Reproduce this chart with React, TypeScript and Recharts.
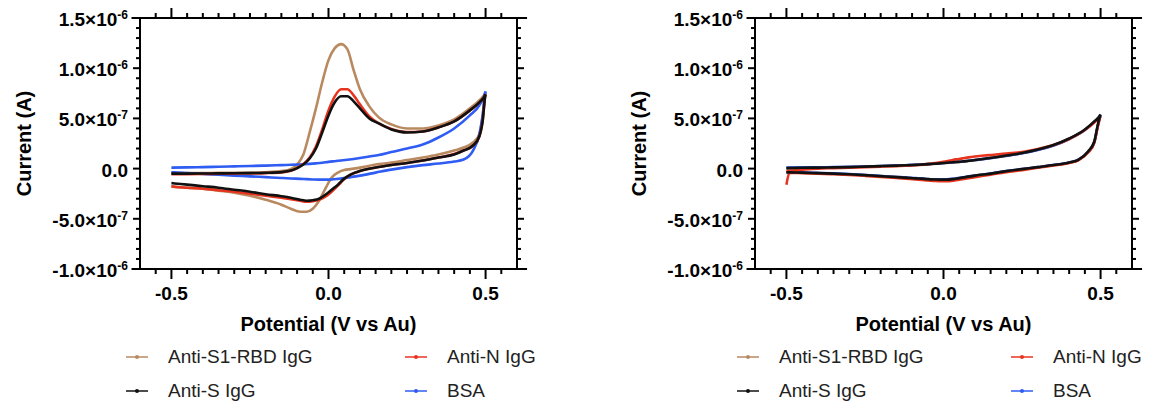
import { LineChart, Line, XAxis, YAxis, ReferenceLine } from "recharts"

// potentials (V vs Au) for the anodic (forward) and cathodic (reverse) sweeps
const fwdPotential = [-0.5, -0.45, -0.4, -0.35, -0.3, -0.25, -0.2, -0.15, -0.12, -0.1, -0.08, -0.06, -0.04, -0.02, 0, 0.02, 0.04, 0.06, 0.08, 0.1, 0.13, 0.16, 0.2, 0.25, 0.3, 0.35, 0.4, 0.45, 0.48, 0.5]
const revPotential = [0.5, 0.49, 0.48, 0.46, 0.43, 0.4, 0.35, 0.3, 0.25, 0.2, 0.15, 0.1, 0.07, 0.05, 0.03, 0.01, -0.01, -0.03, -0.05, -0.07, -0.09, -0.12, -0.15, -0.2, -0.25, -0.3, -0.35, -0.4, -0.45, -0.49, -0.5]

// left panel, current in units of 1e-7 A
const rbdFwdA = [-0.45, -0.45, -0.44, -0.43, -0.42, -0.4, -0.36, -0.25, -0.05, 0.4, 1.4, 3.6, 6.0, 8.6, 10.8, 12.0, 12.4, 11.9, 9.8, 7.9, 6.2, 5.1, 4.4, 4.0, 4.0, 4.3, 4.9, 6.0, 6.8, 7.6]
const rbdRevA = [7.6, 5.0, 3.4, 2.6, 2.1, 1.8, 1.4, 1.1, 0.85, 0.6, 0.4, 0.1, -0.05, -0.15, -0.4, -0.9, -2.0, -3.2, -4.0, -4.3, -4.3, -4.0, -3.6, -3.1, -2.7, -2.4, -2.2, -2.0, -1.9, -1.82, -1.8]
const nFwdA = [-0.55, -0.55, -0.54, -0.52, -0.5, -0.48, -0.45, -0.38, -0.22, 0.05, 0.45, 1.1, 2.2, 3.9, 5.8, 7.2, 7.9, 7.9, 7.3, 6.4, 5.2, 4.5, 3.95, 3.65, 3.7, 4.1, 4.7, 5.8, 6.6, 7.4]
const nRevA = [7.4, 4.6, 3.2, 2.3, 1.8, 1.45, 1.1, 0.8, 0.55, 0.35, 0.1, -0.25, -0.6, -1.05, -1.7, -2.3, -2.8, -3.1, -3.25, -3.3, -3.2, -3.05, -2.9, -2.7, -2.5, -2.3, -2.15, -2.0, -1.9, -1.8, -1.75]
const sFwdA = [-0.5, -0.5, -0.49, -0.48, -0.47, -0.45, -0.42, -0.35, -0.2, 0.05, 0.4, 1.0, 2.0, 3.6, 5.3, 6.6, 7.2, 7.2, 6.7, 6.0, 5.0, 4.5, 3.9, 3.6, 3.7, 4.1, 4.7, 5.8, 6.6, 7.4]
const sRevA = [7.4, 4.6, 3.2, 2.3, 1.8, 1.4, 1.1, 0.8, 0.55, 0.35, 0.1, -0.25, -0.6, -1.0, -1.6, -2.1, -2.6, -3.0, -3.15, -3.2, -3.1, -2.9, -2.75, -2.55, -2.3, -2.1, -1.9, -1.75, -1.6, -1.48, -1.45]
const bsaFwdA = [0.1, 0.12, 0.15, 0.18, 0.22, 0.26, 0.3, 0.35, 0.38, 0.4, 0.43, 0.47, 0.52, 0.58, 0.67, 0.74, 0.81, 0.88, 0.96, 1.05, 1.2, 1.35, 1.65, 2.0, 2.4, 3.1, 4.0, 5.3, 6.3, 7.7]
const bsaRevA = [7.7, 5.2, 3.4, 1.8, 0.9, 0.7, 0.5, 0.35, 0.15, -0.1, -0.4, -0.7, -0.85, -0.95, -1.02, -1.08, -1.1, -1.1, -1.08, -1.05, -1.02, -0.98, -0.93, -0.85, -0.77, -0.7, -0.62, -0.53, -0.45, -0.38, -0.37]

// right panel
const rbdFwdB = [0.0, 0.05, 0.08, 0.1, 0.13, 0.18, 0.23, 0.28, 0.31, 0.34, 0.37, 0.4, 0.44, 0.48, 0.53, 0.58, 0.63, 0.69, 0.76, 0.83, 0.95, 1.08, 1.27, 1.52, 1.87, 2.3, 2.95, 3.85, 4.65, 5.3]
const rbdRevB = [5.3, 4.1, 2.6, 1.6, 0.85, 0.58, 0.33, 0.13, -0.08, -0.28, -0.52, -0.72, -0.86, -0.96, -1.05, -1.1, -1.11, -1.09, -1.06, -1.01, -0.97, -0.9, -0.85, -0.76, -0.67, -0.59, -0.52, -0.46, -0.41, -0.39, -0.38]
const nFwdB = [-0.3, -0.1, 0.0, 0.05, 0.1, 0.15, 0.2, 0.25, 0.28, 0.32, 0.36, 0.42, 0.5, 0.58, 0.68, 0.8, 0.92, 1.02, 1.12, 1.2, 1.3, 1.38, 1.5, 1.65, 1.95, 2.35, 2.95, 3.85, 4.6, 5.2]
const nRevB = [5.2, 4.0, 2.6, 1.6, 0.85, 0.55, 0.3, 0.1, -0.15, -0.35, -0.6, -0.85, -1.0, -1.1, -1.2, -1.25, -1.25, -1.22, -1.18, -1.12, -1.07, -1.0, -0.93, -0.82, -0.72, -0.63, -0.56, -0.5, -0.45, -0.42, -1.6]
const sFwdB = [0.05, 0.08, 0.1, 0.12, 0.15, 0.2, 0.25, 0.3, 0.33, 0.36, 0.39, 0.42, 0.46, 0.5, 0.55, 0.6, 0.65, 0.7, 0.78, 0.85, 0.98, 1.1, 1.3, 1.55, 1.9, 2.35, 3.0, 3.9, 4.7, 5.4]
const sRevB = [5.4, 4.2, 2.7, 1.7, 0.9, 0.6, 0.35, 0.15, -0.05, -0.25, -0.5, -0.7, -0.85, -0.95, -1.05, -1.1, -1.1, -1.08, -1.05, -1.0, -0.97, -0.9, -0.85, -0.75, -0.65, -0.57, -0.5, -0.45, -0.4, -0.38, -0.37]
const bsaFwdB = [0.1, 0.12, 0.13, 0.15, 0.17, 0.21, 0.26, 0.31, 0.34, 0.37, 0.4, 0.43, 0.47, 0.51, 0.56, 0.61, 0.66, 0.71, 0.78, 0.85, 0.97, 1.1, 1.28, 1.52, 1.85, 2.3, 2.95, 3.85, 4.65, 5.35]
const bsaRevB = [5.35, 4.1, 2.65, 1.65, 0.9, 0.6, 0.35, 0.15, -0.05, -0.25, -0.5, -0.7, -0.83, -0.93, -1.02, -1.07, -1.08, -1.06, -1.03, -0.98, -0.95, -0.88, -0.83, -0.73, -0.63, -0.55, -0.48, -0.43, -0.38, -0.36, -0.35]

const xTicks = [-0.55, -0.5, -0.45, -0.4, -0.35, -0.3, -0.25, -0.2, -0.15, -0.1, -0.05, 0, 0.05, 0.1, 0.15, 0.2, 0.25, 0.3, 0.35, 0.4, 0.45, 0.5, 0.55]
const xTickLabels: Record<string, string> = { "-0.5": "-0.5", "0": "0.0", "0.5": "0.5" }
const yTicks = [-10, -9, -8, -7, -6, -5, -4, -3, -2, -1, 0, 1, 2, 3, 4, 5, 6, 7, 8, 9, 10, 11, 12, 13, 14, 15]
const yTickLabels: Record<string, [string, string]> = {
  "15": ["1.5×10", "-6"],
  "10": ["1.0×10", "-6"],
  "5": ["5.0×10", "-7"],
  "0": ["0.0", ""],
  "-5": ["-5.0×10", "-7"],
  "-10": ["-1.0×10", "-6"],
}

const names = ["Anti-S1-RBD IgG", "Anti-N IgG", "Anti-S IgG", "BSA"]
const colors = ["#b98a60", "#e8341f", "#111111", "#2f5cf2"]

const FONT = "'Liberation Sans', Arial, Helvetica, sans-serif"

const loop = (fwd: number[], rev: number[]) => [
  ...fwd.map((i, k) => ({ v: fwdPotential[k], i })),
  ...rev.slice(1).map((i, k) => ({ v: revPotential[k + 1], i })),
]

const panelA = [
  { name: names[0], color: colors[0], data: loop(rbdFwdA, rbdRevA) },
  { name: names[3], color: colors[3], data: loop(bsaFwdA, bsaRevA) },
  { name: names[1], color: colors[1], data: loop(nFwdA, nRevA) },
  { name: names[2], color: colors[2], data: loop(sFwdA, sRevA) },
]
const panelB = [
  { name: names[0], color: colors[0], data: loop(rbdFwdB, rbdRevB) },
  { name: names[3], color: colors[3], data: loop(bsaFwdB, bsaRevB) },
  { name: names[1], color: colors[1], data: loop(nFwdB, nRevB) },
  { name: names[2], color: colors[2], data: loop(sFwdB, sRevB) },
]

function LeftTick({ x, y, payload }: any) {
  const lbl = yTickLabels[String(payload.value)]
  const len = lbl ? 7 : 4
  return (
    <g>
      <line x1={x} x2={x - len} y1={y} y2={y} stroke="#000" strokeWidth={2} />
      {lbl && (
        <text x={x - 12} y={y + 8} textAnchor="end" fontSize={19} fontWeight="bold" fontFamily={FONT} fill="#000">
          {lbl[0]}
          {lbl[1] && (
            <tspan dy={-7} fontSize={12}>
              {lbl[1]}
            </tspan>
          )}
        </text>
      )}
    </g>
  )
}

function RightTick({ x, y, payload }: any) {
  const len = yTickLabels[String(payload.value)] ? 7 : 4
  return <line x1={x} x2={x + len} y1={y} y2={y} stroke="#000" strokeWidth={2} />
}

function BottomTick({ x, y, payload }: any) {
  const lbl = xTickLabels[String(payload.value)]
  const len = lbl ? 10 : 5
  return (
    <g>
      <line x1={x} x2={x} y1={y} y2={y + len} stroke="#000" strokeWidth={2} />
      {lbl && (
        <text x={x} y={y + 31} textAnchor="middle" fontSize={19} fontWeight="bold" fontFamily={FONT} fill="#000">
          {lbl}
        </text>
      )}
    </g>
  )
}

function TopTick({ x, y, payload }: any) {
  const len = xTickLabels[String(payload.value)] ? 10 : 5
  return <line x1={x} x2={x} y1={y} y2={y - len} stroke="#000" strokeWidth={2} />
}

function Panel({ series, left }: { series: typeof panelA; left: number }) {
  return (
    <div style={{ position: "absolute", left, top: 0 }}>
      <LineChart width={540} height={340} margin={{ top: 17, right: 13, bottom: 0, left: 0 }}>
        <XAxis
          xAxisId="b"
          dataKey="v"
          type="number"
          domain={[-0.6, 0.6]}
          allowDataOverflow
          ticks={xTicks}
          interval={0}
          tick={<BottomTick />}
          tickSize={0}
          tickMargin={0}
          tickLine={false}
          axisLine={false}
          height={71}
          label={{ value: "Potential (V vs Au)", position: "insideBottom", offset: 9, fontSize: 20, fontWeight: "bold", fontFamily: FONT, fill: "#000" }}
        />
        <XAxis
          xAxisId="t"
          orientation="top"
          dataKey="v"
          type="number"
          domain={[-0.6, 0.6]}
          allowDataOverflow
          ticks={xTicks}
          interval={0}
          tick={<TopTick />}
          tickSize={0}
          tickMargin={0}
          tickLine={false}
          axisLine={false}
          height={1}
        />
        <YAxis
          yAxisId="l"
          type="number"
          domain={[-10, 15]}
          allowDataOverflow
          ticks={yTicks}
          interval={0}
          tick={<LeftTick />}
          tickSize={0}
          tickMargin={0}
          tickLine={false}
          axisLine={{ stroke: "#000", strokeWidth: 2 }}
          width={140}
          label={{ value: "Current (A)", angle: -90, position: "insideLeft", offset: 24, fontSize: 20, fontWeight: "bold", fontFamily: FONT, fill: "#000", style: { textAnchor: "middle" } }}
        />
        <YAxis
          yAxisId="r"
          orientation="right"
          type="number"
          domain={[-10, 15]}
          allowDataOverflow
          ticks={yTicks}
          interval={0}
          tick={<RightTick />}
          tickSize={0}
          tickMargin={0}
          tickLine={false}
          axisLine={{ stroke: "#000", strokeWidth: 2 }}
          width={10}
        />
        <ReferenceLine xAxisId="b" yAxisId="l" ifOverflow="visible" stroke="#000" strokeWidth={2} segment={[{ x: -0.627, y: 15 }, { x: 0.632, y: 15 }]} />
        <ReferenceLine xAxisId="b" yAxisId="l" ifOverflow="visible" stroke="#000" strokeWidth={2} segment={[{ x: -0.627, y: -10 }, { x: 0.632, y: -10 }]} />
        {series.map((s) => (
          <Line
            key={s.name}
            xAxisId="b"
            yAxisId="l"
            data={s.data}
            dataKey="i"
            name={s.name}
            type="monotone"
            stroke={s.color}
            strokeWidth={2.6}
            dot={false}
            isAnimationActive={false}
          />
        ))}
      </LineChart>
    </div>
  )
}

function Legend2x2({ left, colGap }: { left: number; colGap: number }) {
  const rows = [
    [0, 1],
    [2, 3],
  ]
  return (
    <div style={{ position: "absolute", left, top: 340, fontFamily: FONT, fontSize: 19, color: "#222" }}>
      {rows.map((r, ri) => (
        <div key={ri} style={{ display: "flex", height: 34, alignItems: "center" }}>
          {r.map((k) => (
            <div key={k} style={{ display: "flex", alignItems: "center", width: colGap }}>
              <svg width={22} height={10} style={{ marginRight: 20 }}>
                <line x1={0} x2={22} y1={5} y2={5} stroke={colors[k]} strokeWidth={1.5} />
                <circle cx={11} cy={5} r={2} fill={colors[k]} />
              </svg>
              <span>{names[k]}</span>
            </div>
          ))}
        </div>
      ))}
    </div>
  )
}

export default function App() {
  return (
    <div style={{ position: "absolute", left: 0, top: 0, width: 1156, height: 409, background: "#fff", overflow: "hidden" }}>
      <Panel series={panelA} left={0} />
      <Panel series={panelB} left={615} />
      <Legend2x2 left={126} colGap={279} />
      <Legend2x2 left={737} colGap={274} />
    </div>
  )
}
